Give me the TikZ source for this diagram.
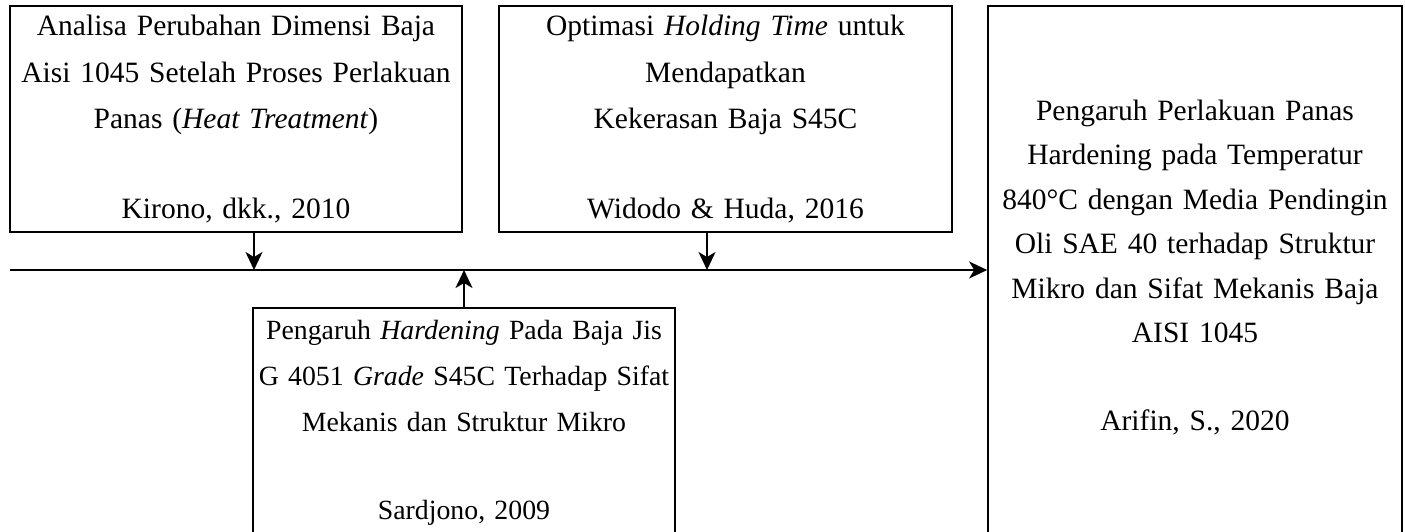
\documentclass[tikz,border=0pt]{standalone}
\usepackage{fontspec}
\setmainfont{Liberation Serif}
\usetikzlibrary{arrows.meta}
\begin{document}
\begin{tikzpicture}[x=1pt,y=-1pt,
  box/.style={draw, line width=1.7pt, rectangle, inner sep=0pt},
  txt/.style={align=center, text width=600pt, inner sep=0pt, anchor=base},
  sp/.style={font=\fontsize{29.5}{#1}\selectfont},
  spsmall/.style={font=\fontsize{27.8}{#1}\selectfont},
  conn/.style={line width=1.7pt, -{Stealth[length=18pt,width=17pt,inset=5pt]}}]
\useasboundingbox (0,0) rectangle (1405,531);
\clip (0,0) rectangle (1405,531);
% boxes
\node[box, minimum width=452pt, minimum height=226pt] (b1) at (236,119) {};
\node[box, minimum width=453pt, minimum height=226pt] (b2) at (725.5,119) {};
\node[box, minimum width=422pt, minimum height=228pt] (b3) at (464,422) {};
\node[box, minimum width=414pt, minimum height=527pt] (b4) at (1195,269.5) {};
% texts
\node[txt, sp=46.6pt] (t1) at (236,35.5) {Analisa Perubahan Dimensi Baja\\ Aisi 1045 Setelah Proses Perlakuan\\ Panas (\textit{Heat Treatment})\\[43pt] Kirono, dkk., 2010};
\node[txt, sp=46.6pt] (t2) at (725.5,35.5) {Optimasi \textit{Holding Time} untuk\\ Mendapatkan\\ Kekerasan Baja S45C\\[43pt] Widodo \& Huda, 2016};
\node[txt, spsmall=46pt] (t3) at (464,339) {Pengaruh \textit{Hardening} Pada Baja Jis\\ G 4051 \textit{Grade} S45C Terhadap Sifat\\ Mekanis dan Struktur Mikro\\[42pt] Sardjono, 2009};
\node[txt, sp=44.4pt] (t4) at (1195,120.5) {Pengaruh Perlakuan Panas\\ Hardening pada Temperatur\\ 840°C dengan Media Pendingin\\ Oli SAE 40 terhadap Struktur\\ Mikro dan Sifat Mekanis Baja\\ AISI 1045\\[43.6pt] Arifin, S., 2020};
% connectors
\coordinate (L) at (10,270);
\coordinate (j1) at (254,270);
\coordinate (j2) at (707,270);
\coordinate (j3) at (464,270);
\draw[conn] (L) -- (b4.west |- L);
\draw[conn] (b1.south -| j1) -- (j1);
\draw[conn] (b2.south -| j2) -- (j2);
\draw[conn] (b3.north) -- (j3);
\end{tikzpicture}
\end{document}
